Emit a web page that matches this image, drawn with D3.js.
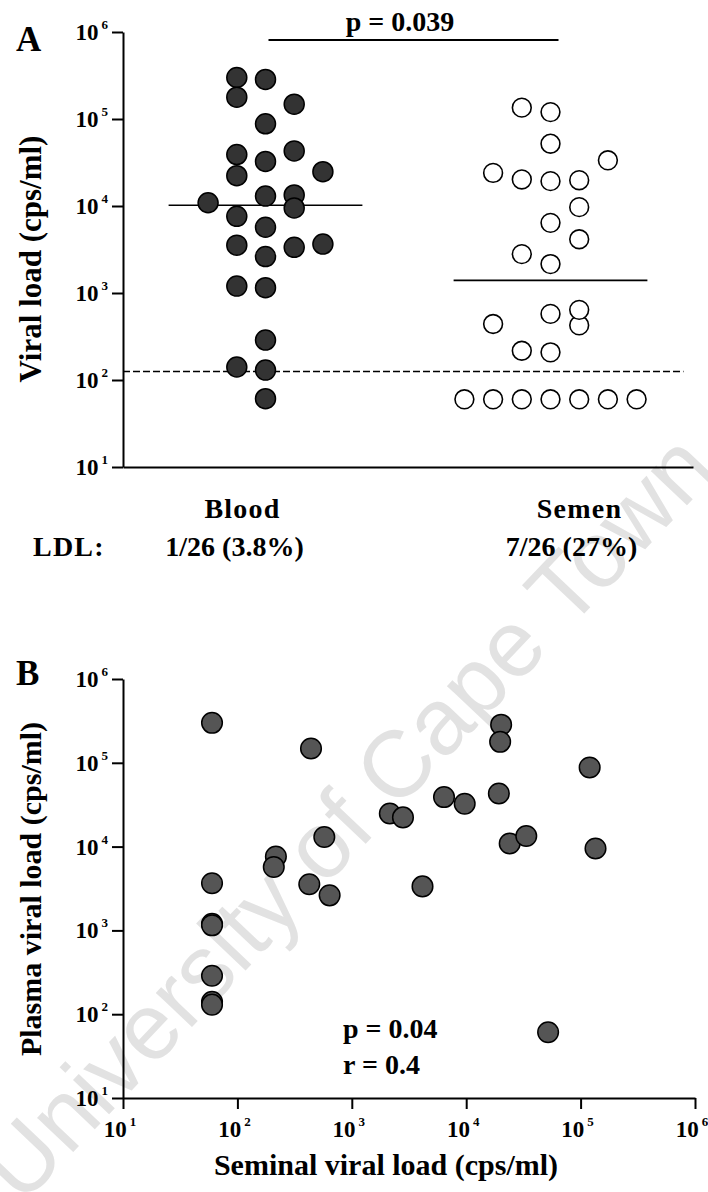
<!DOCTYPE html>
<html><head><meta charset="utf-8">
<script src="https://cdn.jsdelivr.net/npm/d3@7"></script>
<style>
html,body{margin:0;padding:0;background:#fff;}
svg{display:block;}
text{font-family:"Liberation Serif","Times New Roman",serif;font-weight:bold;fill:#000;}
</style></head><body>
<svg id="chart" width="708" height="1192"></svg>
<script>
// ---------------- data ----------------
const subjects   = d3.range(1, 27);
const plasmaVL   = [300000,148000,13000,7600,5700,3650,3550,2620,285000,178000,88000,39000,32500,43000,24800,22300,10900,13400,9500,3350,1200,1150,288,141,130,61];
const semenVL    = [60,440,575,217,208,60,425,640,20200,19800,120000,6400,9700,19300,2150,2800,24000,33500,135000,4150,60,60,60,60,60,52000];
// column (swarm slot) of each subject's dot in panel A
const bloodSlot  = [-1,1,0,-1,0,2,-1,0,0,-1,0,-1,0,1,2,-1,-2,1,1,1,-1,0,0,-1,0,0];
const semenSlot  = [-3,-2,0,-1,0,-2,1,1,-1,1,0,0,1,0,0,-1,-2,2,-1,1,-1,0,1,2,3,0];
const groups     = ["Blood", "Semen"];
const ldlText    = ["1/26 (3.8%)", "7/26 (27%)"];
const ldlThreshold = 125;
const decadeTicks  = [1e1, 1e2, 1e3, 1e4, 1e5, 1e6];
const tickExp      = ["1","2","3","4","5","6"];
const pValueA = "p = 0.039";
const statsB  = ["p = 0.04", "r = 0.4"];

const svg = d3.select("#chart");

// ---------------- watermark ----------------
svg.append("text")
  .attr("transform", "translate(22,1206) rotate(-46.5)")
  .style("font-family", "'Liberation Sans', Arial, sans-serif")
  .style("font-weight", "normal")
  .style("font-size", "94px")
  .style("fill", "#e2e2e2")
  .text("University of Cape Town");

// ---------------- helpers ----------------
function yTickLabels(g, scale, x) {
  decadeTicks.forEach((v, i) => {
    const t = g.append("text").attr("x", x).attr("y", scale(v) + 8)
      .attr("text-anchor", "end").style("font-size", "23px");
    t.append("tspan").text("10");
    t.append("tspan").attr("dx", 3).attr("dy", -11).style("font-size", "13px").text(tickExp[i]);
  });
}
function styleAxis(g) {
  g.selectAll("path.domain").attr("stroke", "#000").attr("stroke-width", 2);
  g.selectAll(".tick line").attr("stroke", "#000").attr("stroke-width", 2);
  g.selectAll(".tick text").remove();
}

// ================= Panel A =================
const yA = d3.scaleLog().domain([10, 1e6]).range([467, 32]);
const xA = d3.scalePoint().domain(groups).range([123, 693]).padding(0.5);
const slot = d3.scaleLinear().domain([0, 1]).range([0, 28.7]);
const halfMed = xA.step() * 0.34;

const gA = svg.append("g");
gA.append("g").attr("transform", "translate(0,467)")
  .call(d3.axisBottom(xA).tickSize(0).tickSizeOuter(0)).call(styleAxis);
gA.append("g").attr("transform", "translate(123,0)")
  .call(d3.axisLeft(yA).tickValues(decadeTicks).tickSize(11).tickSizeOuter(0)).call(styleAxis);
yTickLabels(gA, yA, 108);

gA.append("text").attr("x", 16).attr("y", 51).style("font-size", "35px").text("A");
gA.append("text").attr("transform", `translate(41,259) rotate(-90)`)
  .attr("text-anchor", "middle").style("font-size", "31px").text("Viral load (cps/ml)");

// LDL dashed line
gA.append("line").attr("x1", 123).attr("x2", xA("Semen") + 133)
  .attr("y1", yA(ldlThreshold)).attr("y2", yA(ldlThreshold))
  .attr("stroke", "#000").attr("stroke-width", 1.6).attr("stroke-dasharray", "7,3");

// medians
const groupVals = [plasmaVL, semenVL];
groups.forEach((g, i) => {
  const m = d3.median(groupVals[i]);
  gA.append("line").attr("x1", xA(g) - halfMed).attr("x2", xA(g) + halfMed)
    .attr("y1", yA(m)).attr("y2", yA(m)).attr("stroke", "#000").attr("stroke-width", 1.6);
});

// dots
gA.append("g").selectAll("circle").data(subjects.map((s, i) => i)).join("circle")
  .attr("cx", i => xA("Blood") + slot(bloodSlot[i]))
  .attr("cy", i => yA(plasmaVL[i]))
  .attr("r", 10).attr("fill", "#333").attr("stroke", "#000").attr("stroke-width", 1.5);
gA.append("g").selectAll("circle").data(subjects.map((s, i) => i)).join("circle")
  .attr("cx", i => xA("Semen") + slot(semenSlot[i]))
  .attr("cy", i => yA(semenVL[i]))
  .attr("r", 9.4).attr("fill", "#fff").attr("stroke", "#000").attr("stroke-width", 1.6);

// significance bar
gA.append("line").attr("x1", xA("Blood") + 3).attr("x2", xA("Semen") + 8)
  .attr("y1", 40).attr("y2", 40).attr("stroke", "#000").attr("stroke-width", 2);
gA.append("text").attr("x", 400).attr("y", 31).attr("text-anchor", "middle")
  .style("font-size", "28px").text(pValueA);

// category labels & LDL
const catOffset = [-23, 29];
const ldlOffset = [-31, 21];
groups.forEach((g, i) => {
  gA.append("text").attr("x", xA(g) + catOffset[i]).attr("y", 518).attr("text-anchor", "middle")
    .style("font-size", "28px").style("letter-spacing", "1.2px").text(g);
  gA.append("text").attr("x", xA(g) + ldlOffset[i]).attr("y", 556).attr("text-anchor", "middle")
    .style("font-size", "28px").text(ldlText[i]);
});
gA.append("text").attr("x", 33).attr("y", 556).style("font-size", "28px").style("letter-spacing", "1.2px").text("LDL:");

// ================= Panel B =================
const yB = d3.scaleLog().domain([10, 1e6]).range([1098, 679]);
const xB = d3.scaleLog().domain([10, 1e6]).range([123, 695]);
const gB = svg.append("g");
gB.append("g").attr("transform", "translate(0,1098)")
  .call(d3.axisBottom(xB).tickValues(decadeTicks).tickSize(11).tickSizeOuter(0)).call(styleAxis);
gB.append("g").attr("transform", "translate(123,0)")
  .call(d3.axisLeft(yB).tickValues(decadeTicks).tickSize(11).tickSizeOuter(0)).call(styleAxis);
yTickLabels(gB, yB, 108);
decadeTicks.forEach((v, i) => {
  const t = gB.append("text").attr("x", xB(v) - 3).attr("y", 1137)
    .attr("text-anchor", "middle").style("font-size", "23px");
  t.append("tspan").text("10");
  t.append("tspan").attr("dx", 3).attr("dy", -11).style("font-size", "13px").text(tickExp[i]);
});

gB.append("text").attr("x", 16).attr("y", 685).style("font-size", "35px").text("B");
gB.append("text").attr("transform", `translate(41,889) rotate(-90)`)
  .attr("text-anchor", "middle").style("font-size", "30px").text("Plasma viral load (cps/ml)");
gB.append("text").attr("x", 386).attr("y", 1175).attr("text-anchor", "middle")
  .style("font-size", "30px").text("Seminal viral load (cps/ml)");

gB.append("g").selectAll("circle").data(subjects.map((s, i) => i)).join("circle")
  .attr("cx", i => xB(semenVL[i]))
  .attr("cy", i => yB(plasmaVL[i]))
  .attr("r", 10.3).attr("fill", "#555").attr("stroke", "#000").attr("stroke-width", 1.5);

statsB.forEach((s, i) => {
  gB.append("text").attr("x", 343).attr("y", 1038 + i * 36).style("font-size", "28px").text(s);
});
</script>
</body></html>
